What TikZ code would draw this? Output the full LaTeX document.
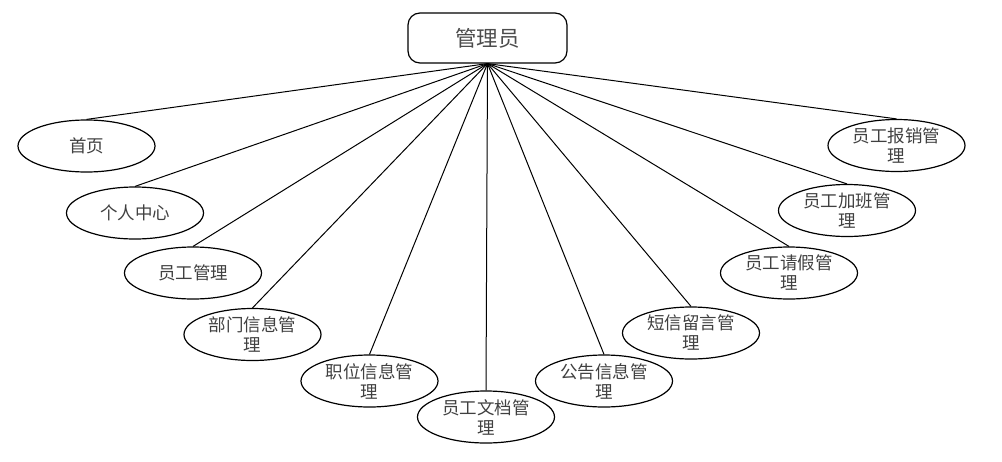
\documentclass[tikz,border=0pt]{standalone}
\usepackage{fontspec}
\newfontfamily\cjk{Noto Sans CJK SC}
\usetikzlibrary{shapes.geometric}
\begin{document}
\begin{tikzpicture}[x=1pt,y=-1pt,
  leaf/.style={draw, line width=1.2pt, ellipse, minimum width=137pt, minimum height=52pt, inner sep=0pt,
    font=\cjk\fontsize{17.5}{20}\selectfont, align=center, text=black!75},
  rootbox/.style={draw, line width=1.2pt, rounded corners=12pt, minimum width=159pt, minimum height=50pt,
    font=\cjk\fontsize{21.5}{24}\selectfont, text=black!70},
  link/.style={line width=1pt}]
\useasboundingbox (0,0) rectangle (1002,461);
\node[rootbox] (root) at (487.5,38) {管理员};
\node[leaf] (n1) at (86.5,146) {首页};
\node[leaf] (n2) at (135,213) {个人中心};
\node[leaf] (n3) at (193,273) {员工管理};
\node[leaf] (n4) at (252.5,334.5) {部门信息管\\理};
\node[leaf] (n5) at (369.5,381) {职位信息管\\理};
\node[leaf] (n6) at (486,417) {员工文档管\\理};
\node[leaf] (n7) at (604,381) {公告信息管\\理};
\node[leaf] (n8) at (691,333) {短信留言管\\理};
\node[leaf] (n9) at (789,273) {员工请假管\\理};
\node[leaf] (n10) at (847,210.5) {员工加班管\\理};
\node[leaf] (n11) at (896.5,145.5) {员工报销管\\理};
\foreach \n in {n1,n2,n3,n4,n5,n6,n7,n8,n9,n10,n11}
  \draw[link] (root.south) -- (\n.north);
\end{tikzpicture}
\end{document}
